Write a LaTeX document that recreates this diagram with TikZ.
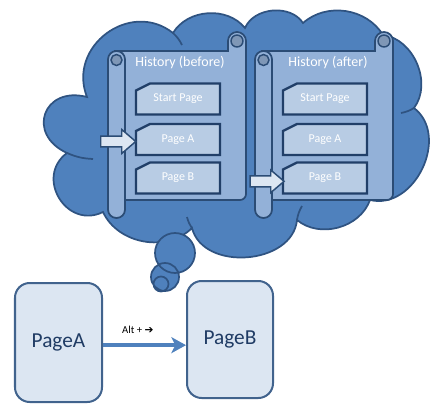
\documentclass[tikz,border=0pt]{standalone}
\usepackage{fontspec}
\setmainfont{Carlito}
\newfontfamily\dejavu{DejaVu Sans}
\usetikzlibrary{arrows.meta,calc}
\definecolor{cloudfill}{HTML}{4F81BD}
\definecolor{cloudline}{HTML}{2F5381}
\definecolor{sheetfill}{HTML}{93B1D8}
\definecolor{sheetline}{HTML}{2B4C75}
\definecolor{curlfill}{HTML}{7F97B6}
\definecolor{boxfill}{HTML}{B8CCE4}
\definecolor{boxline}{HTML}{213F68}
\definecolor{arrfill}{HTML}{DCE6F2}
\definecolor{pagefill}{HTML}{DCE6F2}
\definecolor{pageline}{HTML}{41638D}
\definecolor{pagetext}{HTML}{1F3B64}
\newcommand\histbox[4]{%
  \draw[hbox] (#2-42,#3-8.5) -- (#2-28,#3-15.5) -- (#2+42,#3-15.5) -- (#2+42,#3+15.5) -- (#2-42,#3+15.5) -- cycle;
  \node[htext] (#1) at (#2,#3) {#4};}
\newcommand\histscroll[1]{%
  \begin{scope}[shift={(#1,0)}]
  \draw[sheet] (115,51) -- (228,51) -- (228,41) arc[start angle=180,end angle=360,radius=9] -- (246,194) arc[start angle=0,end angle=90,radius=6] -- (115,200) -- cycle;
  \draw[curl] (237,41) circle[radius=6];
  \draw[sheet, rounded corners=6.3pt] (108,51) rectangle (125,218);
  \draw[curl] (116.5,60) circle[radius=5.5];
  \end{scope}}
\begin{document}
\begin{tikzpicture}[x=0.75pt,y=-0.75pt,
  cloud/.style={fill=cloudfill, draw=cloudline, line width=1.3pt},
  cloudinner/.style={draw=cloudline, line width=1.3pt},
  sheet/.style={fill=sheetfill, draw=sheetline, line width=1.3pt},
  curl/.style={fill=curlfill, draw=sheetline, line width=1.1pt},
  hbox/.style={fill=boxfill, draw=boxline, line width=1.8pt},
  htext/.style={text=white, font=\fontsize{9}{10}\selectfont, inner sep=0pt, minimum width=63pt, minimum height=23.25pt},
  htitle/.style={text=white, font=\fontsize{10.5}{12}\selectfont, inner sep=0pt},
  barrow/.style={fill=arrfill, draw=sheetline, line width=1.1pt},
  pagenode/.style={rectangle, rounded corners=11pt, fill=pagefill, draw=pageline, line width=1.5pt, minimum width=65.25pt, minimum height=89.25pt, text=pagetext, font=\fontsize{16}{19}\selectfont, inner sep=0pt},
  connector/.style={draw=cloudfill, line width=3pt, -{Stealth[length=11pt,width=12pt,inset=3pt]}},
  altlabel/.style={font=\fontsize{8}{9}\selectfont, text=black, inner sep=0pt}]
\useasboundingbox (0,0) rectangle (444,418);
% cloud
\draw[cloud] (67,153) to[bend left=85,looseness=1.95] (87,97) to[bend left=75,looseness=1.3] (173,33)
  to[bend left=55] (245,28) to[bend left=62] (303,23) to[bend left=50] (383,35)
  to[bend left=60] (414,108) to[bend left=78,looseness=1.15] (370,200) to[bend left=55] (297,220)
  to[bend left=80,looseness=1.1] (192,228) to[bend left=55] (103,212) to[bend left=85,looseness=1.5] (67,153) -- cycle;
\draw[cloudinner] (67,153) to[bend right=10] (93,159);
\draw[cloudinner] (414,108) to[bend left=10] (401,113);
\draw[cloudinner] (297,220) to[bend left=10] (302,206);
\draw[cloudinner] (192,228) to[bend left=10] (187,217);
\draw[cloudinner] (173,33) to[bend left=10] (182,45);
\draw[cloudinner] (370,200) to[bend left=10] (360,193);
% thought bubbles
\fill[cloudfill] (175,253) circle[radius=20] (165,277) circle[radius=14] (161,284) circle[radius=7.5];
\draw[cloudline, line width=1.3pt] (175,253) circle[radius=20] (165,277) circle[radius=14] (161,284) circle[radius=7.5];
% scrolls
\histscroll{0}
\histscroll{147}
\node[htitle] (t1) at (180,63) {History (before)};
\node[htitle] (t2) at (328,63) {History (after)};
\histbox{s1st}{178}{99}{Start Page}
\histbox{s1pa}{178}{139.5}{Page A}
\histbox{s1pb}{178}{178}{Page B}
\histbox{s2st}{325}{99}{Start Page}
\histbox{s2pa}{325}{139.5}{Page A}
\histbox{s2pb}{325}{178}{Page B}
% block arrows
\draw[barrow] ([yshift=-1.5pt]s1pa.west) -- ++(-10.5pt,9pt) -- ++(0,-4.9pt) -- ++(-15.75pt,0) -- ++(0,-8.2pt) -- ++(15.75pt,0) -- ++(0,-4.9pt) -- cycle;
\draw[barrow] ([xshift=1pt,yshift=-2.5pt]s2pb.west) -- ++(-10pt,8.5pt) -- ++(0,-4.4pt) -- ++(-15.5pt,0) -- ++(0,-8.2pt) -- ++(15.5pt,0) -- ++(0,-4.4pt) -- cycle;
% pages
\node[pagenode] (pa) at (58.5,342.5) {PageA};
\node[pagenode, minimum width=64.5pt, minimum height=87.75pt] (pb) at (230,339.5) {PageB};
\coordinate (a1) at ([yshift=-2pt]pa.east);
\draw[connector] (a1) -- (a1 -| pb.west) node[altlabel, pos=0.42, above=7pt] (alt) {Alt + {\dejavu\bfseries ➔}};
\end{tikzpicture}
\end{document}
